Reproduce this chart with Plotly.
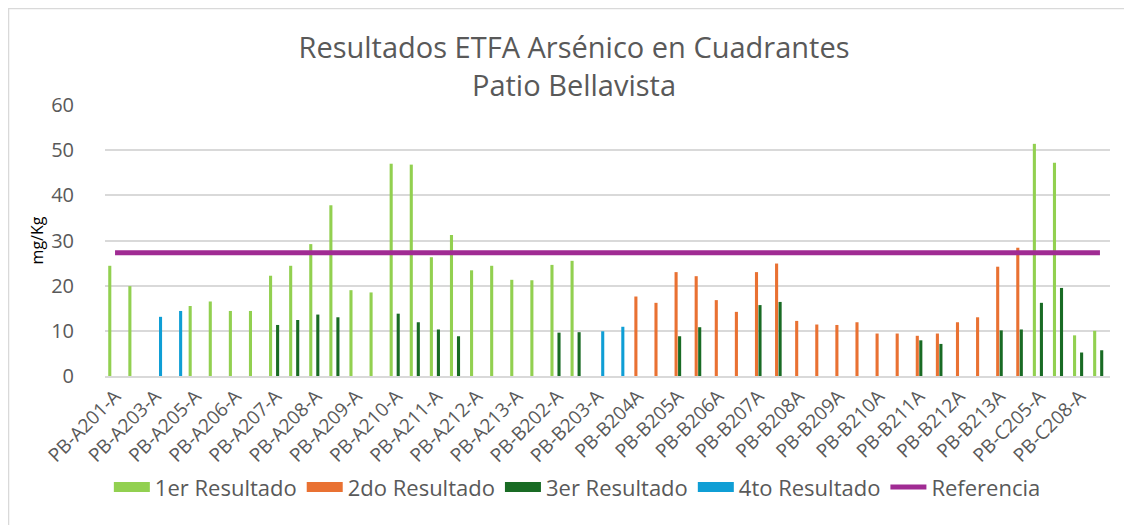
import plotly.graph_objects as go

categories = [
    "PB-A201-A", "PB-A201-B", "PB-A203-A", "PB-A203-B", "PB-A205-A", "PB-A205-B",
    "PB-A206-A", "PB-A206-B", "PB-A207-A", "PB-A207-B", "PB-A208-A", "PB-A208-B",
    "PB-A209-A", "PB-A209-B", "PB-A210-A", "PB-A210-B", "PB-A211-A", "PB-A211-B",
    "PB-A212-A", "PB-A212-B", "PB-A213-A", "PB-A213-B", "PB-B202-A", "PB-B202-B",
    "PB-B203-A", "PB-B203-B", "PB-B204A", "PB-B204B", "PB-B205A", "PB-B205B",
    "PB-B206A", "PB-B206B", "PB-B207A", "PB-B207B", "PB-B208A", "PB-B208B",
    "PB-B209A", "PB-B209B", "PB-B210A", "PB-B210B", "PB-B211A", "PB-B211B",
    "PB-B212A", "PB-B212B", "PB-B213A", "PB-B213B", "PB-C205-A", "PB-C205-B",
    "PB-C208-A", "PB-C208-B",
]

tick_labels = [
    "PB-A201-A", "PB-A203-A", "PB-A205-A", "PB-A206-A", "PB-A207-A", "PB-A208-A",
    "PB-A209-A", "PB-A210-A", "PB-A211-A", "PB-A212-A", "PB-A213-A", "PB-B202-A",
    "PB-B203-A", "PB-B204A", "PB-B205A", "PB-B206A", "PB-B207A", "PB-B208A",
    "PB-B209A", "PB-B210A", "PB-B211A", "PB-B212A", "PB-B213A", "PB-C205-A",
    "PB-C208-A",
]

N = None
res1 = [24.4, 19.9, N, N, 15.5, 16.5, 14.4, 14.4, 22.2, 24.4, 29.2, 37.8,
        19.0, 18.5, 47.0, 46.8, 26.3, 31.2, 23.4, 24.4, 21.3, 21.2, 24.6, 25.5,
        N, N, N, N, N, N, N, N, N, N, N, N,
        N, N, N, N, N, N, N, N, N, N, 51.4, 47.2, 9.0, 10.0]
res2 = [N] * 26 + [17.6, 16.2, 23.0, 22.1, 16.8, 14.2, 23.0, 24.9, 12.2, 11.4,
                   11.3, 11.9, 9.4, 9.4, 8.9, 9.4, 11.9, 13.0, 24.2, 28.4,
                   N, N, N, N]
res3 = [N, N, N, N, N, N, N, N, 11.3, 12.4, 13.6, 13.0,
        N, N, 13.8, 11.9, 10.3, 8.8, N, N, N, N, 9.6, 9.7,
        N, N, N, N, 8.8, 10.8, N, N, 15.7, 16.4, N, N,
        N, N, N, N, 7.9, 7.1, N, N, 10.1, 10.3, 16.2, 19.5, 5.2, 5.7]
res4 = [N, N, 13.1, 14.4] + [N] * 20 + [9.9, 10.9] + [N] * 24
referencia = [27.3] * len(categories)

series_names = ["1er Resultado", "2do Resultado", "3er Resultado", "4to Resultado"]
series_colors = ["#92D050", "#E97132", "#196B24", "#0F9ED5"]
ref_color = "#A02B93"

FONT = "Open Sans"
GRAY = "#595959"

fig = go.Figure()
for name, vals, col in zip(series_names, [res1, res2, res3, res4], series_colors):
    fig.add_trace(go.Bar(x=categories, y=vals, name=name, marker_color=col,
                         marker_line_width=0, legendgroup=name, showlegend=False))

fig.add_trace(go.Scatter(x=categories, y=referencia, name="Referencia", mode="lines",
                         line=dict(color=ref_color, width=5), showlegend=False,
                         legendgroup="Referencia"))

# legend entries (wide swatches like the original)
for name, col in zip(series_names, series_colors):
    fig.add_trace(go.Scatter(x=[None], y=[None], mode="lines", name=name,
                             legendgroup=name, line=dict(color=col, width=16)))
fig.add_trace(go.Scatter(x=[None], y=[None], mode="lines", name="Referencia",
                         legendgroup="Referencia", line=dict(color=ref_color, width=5)))

fig.update_layout(
    width=1132, height=525,
    paper_bgcolor="white", plot_bgcolor="white",
    barmode="group", bargap=0.3, bargroupgap=0.12,
    margin=dict(l=97, r=30, t=97, b=157, autoexpand=False),
    font=dict(family=FONT, color=GRAY),
    title=dict(text="Resultados ETFA Arsénico en Cuadrantes<br>Patio Bellavista",
               x=0.5, xanchor="center", y=0.905, yanchor="top",
               font=dict(size=29, color=GRAY, family=FONT)),
    legend=dict(orientation="h", x=0.47, xanchor="center", y=-0.41, yanchor="middle",
                font=dict(size=22, color=GRAY), itemwidth=36,
                traceorder="normal"),
    xaxis=dict(type="category", tickmode="array", tickvals=tick_labels,
               ticktext=tick_labels, tickangle=-45, tickfont=dict(size=19, color=GRAY),
               showgrid=False, showline=True, linecolor="#D9D9D9", linewidth=1.5,
               ticks="", automargin=False),
    yaxis=dict(range=[0, 60], dtick=10, showgrid=True, gridcolor="#D9D9D9",
               gridwidth=1.5, zeroline=False, tickfont=dict(size=20, color=GRAY),
               ticklabelstandoff=30, automargin=False,
               title=dict(text="mg/Kg", font=dict(size=16, color="black"), standoff=3)),
    shapes=[dict(type="rect", xref="paper", yref="paper",
                 x0=-0.0960, x1=1.05, y0=-0.6, y1=1.356,
                 line=dict(color="#D9D9D9", width=1.5), fillcolor="rgba(0,0,0,0)",
                 layer="below")],
)

fig.write_html("out.html")
